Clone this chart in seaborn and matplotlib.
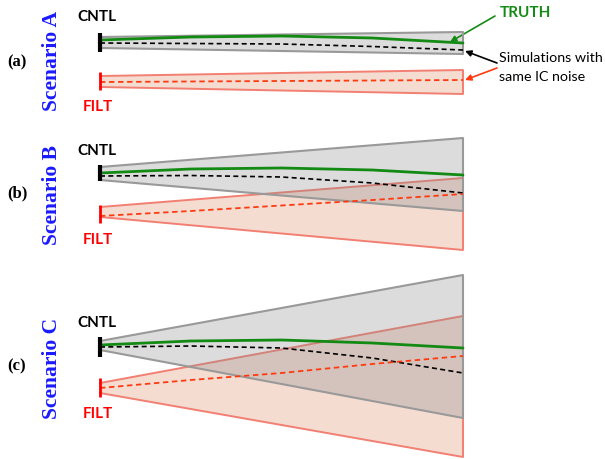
import matplotlib.pyplot as plt
import seaborn as sns

# Values read from the schematic (vertical units = picture rows, top = 0)
lead = [0.0, 0.25, 0.5, 0.75, 1.0]   # forecast lead time, start -> end

scenarios = ["A", "B", "C"]
panel_tags = ["(a)", "(b)", "(c)"]

# TRUTH trajectory (green)
truth_a = [40, 37, 36, 38, 43]
truth_b = [173, 169, 168, 170, 175]
truth_c = [345, 341, 340, 343, 348]

# CNTL simulation (black dashed)
cntl_a = [43, 43.5, 44, 46.5, 50]
cntl_b = [176, 175.5, 177, 183, 193]
cntl_c = [347, 346, 348, 358, 373]

# FILT simulation (red dashed)
filt_a = [82, 81.5, 81, 80.5, 80]
filt_b = [216, 211, 205.5, 200, 194]
filt_c = [388, 380, 373, 364, 356]

# ensemble spread cones: (top, bottom) at start and at end
cntl_cone_start = [(37, 48), (167, 180), (341, 350)]
cntl_cone_end = [(32, 54), (138, 211), (275, 418)]
filt_cone_start = [(76, 87), (207, 217), (383, 393)]
filt_cone_end = [(70, 94), (178, 250), (316, 457)]

# initial condition bars
cntl_ic = [(33, 52), (165, 181), (337, 357)]
filt_ic = [(72, 90), (205, 223), (378, 397)]

truth = [truth_a, truth_b, truth_c]
cntl = [cntl_a, cntl_b, cntl_c]
filt = [filt_a, filt_b, filt_c]

# label placement
X0, X1 = 100, 463
cntl_label_y = [17, 151, 323]
filt_label_y = [107, 240, 414]
scen_label_y = [61, 195, 368]
tag_y = [62, 193, 366]

sns.set_theme(style="white")
fig = plt.figure(figsize=(6.05, 4.59), dpi=100)
ax = fig.add_axes([0, 0, 1, 1])
ax.set_xlim(0, 605)
ax.set_ylim(459, 0)
ax.axis("off")

xs = [X0 + t * (X1 - X0) for t in lead]

gray_fill = (0.55, 0.55, 0.55)
red_fill = (0.88, 0.6, 0.47)
red_edge = "#f27f72"
red_line = "#ff3a10"
green = "#138a13"
sans = "Lato"

for i, s in enumerate(scenarios):
    # FILT cone
    (ft0, fb0), (ft1, fb1) = filt_cone_start[i], filt_cone_end[i]
    ax.fill([X0, X1, X1, X0], [ft0, ft1, fb1, fb0], facecolor=red_fill,
            alpha=0.34, edgecolor="none", zorder=1)
    ax.plot([X0, X1, X1, X0], [ft0, ft1, fb1, fb0], color=red_edge, lw=1.4, zorder=2)
    # CNTL cone
    (ct0, cb0), (ct1, cb1) = cntl_cone_start[i], cntl_cone_end[i]
    ax.fill([X0, X1, X1, X0], [ct0, ct1, cb1, cb0], facecolor=gray_fill,
            alpha=0.3, edgecolor="none", zorder=3)
    ax.plot([X0, X1, X1, X0], [ct0, ct1, cb1, cb0], color="#999999", lw=1.5, zorder=4)

    sns.lineplot(x=xs, y=truth[i], ax=ax, color=green, lw=2, zorder=6)
    sns.lineplot(x=xs, y=cntl[i], ax=ax, color="black", lw=1.2,
                 linestyle=(0, (3, 2)), zorder=6)
    sns.lineplot(x=xs, y=filt[i], ax=ax, color=red_line, lw=1.3,
                 linestyle=(0, (3, 2)), zorder=6)

    ax.plot([X0, X0], cntl_ic[i], color="black", lw=3, zorder=7,
            solid_capstyle="butt")
    ax.plot([X0, X0], filt_ic[i], color="red", lw=2, zorder=7,
            solid_capstyle="butt")

    ax.text(77, cntl_label_y[i], "CNTL", ha="left", va="center", fontsize=11,
            fontweight="bold", family=sans, color="black")
    ax.text(83, filt_label_y[i], "FILT", ha="left", va="center", fontsize=11,
            fontweight="bold", family=sans, color="red")

    ax.text(52, scen_label_y[i], "Scenario " + s, rotation=90, ha="center",
            va="center", fontsize=15.5, fontweight="bold",
            family="Liberation Serif", color="#1a1aff")
    ax.text(17, tag_y[i], panel_tags[i], ha="center", va="center",
            fontsize=12, fontweight="bold", family="Liberation Serif",
            color="black")

# annotations
ax.text(500, 13, "TRUTH", ha="left", va="center", fontsize=11,
        fontweight="bold", family=sans, color=green)
ax.annotate("", xy=(450, 42), xytext=(495, 16),
            arrowprops=dict(arrowstyle="-|>", color=green, lw=1.2,
                            mutation_scale=9, shrinkA=0, shrinkB=0))
ax.text(499, 58, "Simulations with", ha="left", va="center", fontsize=10.3,
        family=sans, color="black")
ax.text(499, 77, "same IC noise", ha="left", va="center", fontsize=10.3,
        family=sans, color="black")
ax.annotate("", xy=(465, 51), xytext=(497, 63),
            arrowprops=dict(arrowstyle="-|>", color="black", lw=1.2,
                            mutation_scale=9, shrinkA=0, shrinkB=0))
ax.annotate("", xy=(465, 80), xytext=(497, 68),
            arrowprops=dict(arrowstyle="-|>", color=red_line, lw=1.2,
                            mutation_scale=9, shrinkA=0, shrinkB=0))

fig.savefig("out.png", dpi=100)
